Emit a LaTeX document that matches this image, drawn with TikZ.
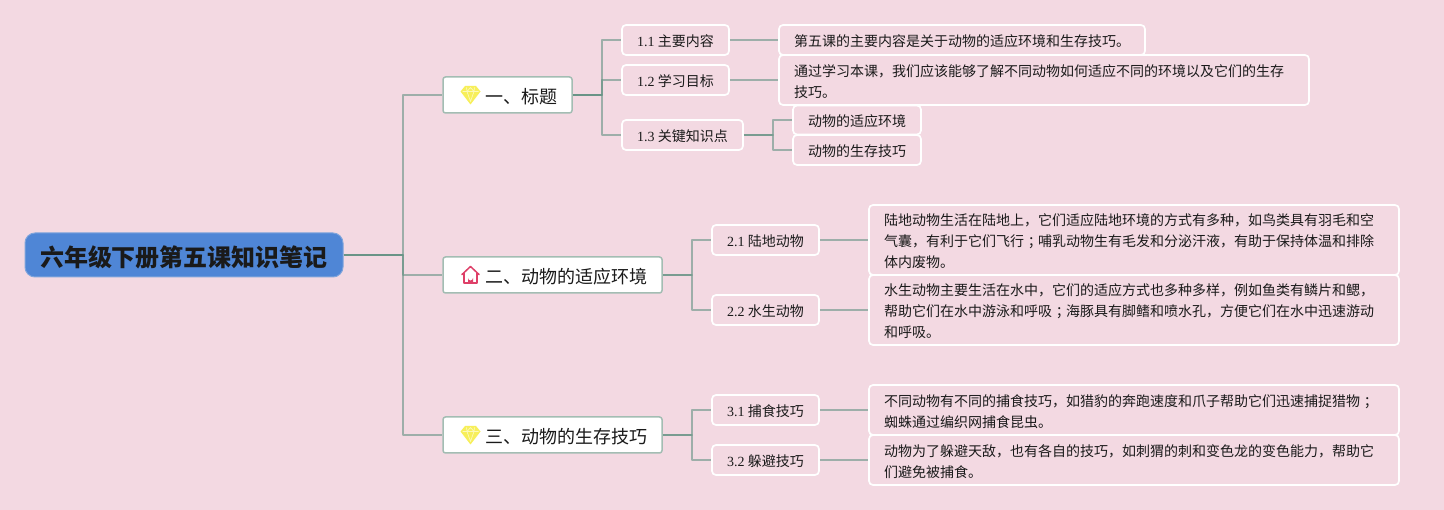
\documentclass[tikz,border=0pt]{standalone}
\usepackage{fontspec}
\setmainfont{Noto Sans CJK SC}
\newfontfamily\numfont{Liberation Serif}
\definecolor{bgpink}{HTML}{F3D9E2}
\definecolor{rootblue}{HTML}{4F86D6}
\definecolor{rootedge}{HTML}{7FA5DC}
\definecolor{linkgreen}{HTML}{5F8F80}
\definecolor{edgegreen}{HTML}{A3BDB3}
\definecolor{gemyellow}{HTML}{F7EF5A}
\definecolor{gemfacet}{HTML}{FCF9B8}
\definecolor{houseRed}{HTML}{DE3F68}
\definecolor{inktext}{HTML}{1A1A1A}
\newcommand{\gemicon}[2]{%
  \begin{scope}[shift={(#1,#2)}]
    \fill[gemyellow] (-5.5,-9) -- (5.5,-9) -- (10,-3.5) -- (0,9.5) -- (-10,-3.5) -- cycle;
    \draw[gemfacet,line width=.7pt,line join=round] (-8,-3.5) -- (8,-3.5) (-4,-7.5) -- (-3.5,-3.5) -- (0,6.5) -- (3.5,-3.5) -- (4,-7.5) (-3.5,-3.5) -- (0,-7.5) -- (3.5,-3.5);
  \end{scope}}
\newcommand{\houseicon}[2]{%
  \begin{scope}[shift={(#1,#2)}]
    \draw[houseRed,line width=1.5pt,line join=round,line cap=round] (-8.5,-0.5) -- (0,-8.5) -- (8.5,-0.5);
    \draw[houseRed,line width=1.5pt,line join=round] (-6.5,-2) -- (-6.5,8) -- (6.5,8) -- (6.5,-2);
    \fill[houseRed] (-2.5,8) -- (-2.5,3) arc[start angle=180,end angle=0,radius=2.5] -- (2.5,8) -- cycle;
  \end{scope}}
\tikzset{
  x=1pt,y=-1pt,
  rootbox/.style={draw=rootedge,fill=rootblue,line width=1pt,rounded corners=10pt,inner sep=0pt,minimum width=318pt,minimum height=44pt,text=inktext,font=\fontsize{24}{28}\selectfont\bfseries},
  topicbox/.style={draw=edgegreen,fill=white,line width=1.5pt,rounded corners=2.5pt,inner sep=0pt,minimum height=36pt,text=inktext,font=\fontsize{18}{22}\selectfont},
  labelbox/.style={draw=white,line width=1.7pt,rounded corners=4pt,inner sep=0pt,minimum height=30pt,text=inktext,font=\fontsize{14}{21}\selectfont},
  notebox/.style={labelbox,align=left},
  link/.style={draw=linkgreen,draw opacity=.58,line width=1.7pt,line join=round},
}
\newcommand{\nm}[1]{{\numfont #1}}
\newcommand{\semi}{\kern4pt；\kern-4pt}
\newcommand{\dnS}{\rule{0pt}{14.4pt}}
\newcommand{\dnT}{\rule{0pt}{18pt}}
\newcommand{\dnR}{\rule{0pt}{25pt}}
\begin{document}
\begin{tikzpicture}
\path[use as bounding box,fill=bgpink] (0,0) rectangle (1444,510);
\node[rootbox] (root) at (184,255) {\dnR 六年级下册第五课知识笔记};
\node[topicbox,minimum width=129pt] (t1) at (507.5,95) {\dnT\hspace*{27pt}一、标题};
\node[topicbox,minimum width=219pt] (t2) at (552.5,275) {\dnT\hspace*{27pt}二、动物的适应环境};
\node[topicbox,minimum width=219pt] (t3) at (552.5,435) {\dnT\hspace*{27pt}三、动物的生存技巧};
\gemicon{470.5}{95}
\houseicon{470.5}{275}
\gemicon{470.5}{435}
\node[labelbox,minimum width=107pt] (a1) at (675.5,40) {\dnS\nm{1.1} 主要内容};
\node[labelbox,minimum width=107pt] (a2) at (675.5,80) {\dnS\nm{1.2} 学习目标};
\node[labelbox,minimum width=121pt] (a3) at (682.5,135) {\dnS\nm{1.3} 关键知识点};
\node[labelbox,minimum width=128pt,minimum height=29pt] (a31) at (857,120) {\dnS 动物的适应环境};
\node[labelbox,minimum width=128pt,minimum height=30pt] (a32) at (857,150) {\dnS 动物的生存技巧};
\node[notebox,minimum width=366pt,text width=336pt] (n1) at (962,40) {\dnS 第五课的主要内容是关于动物的适应环境和生存技巧。};
\node[notebox,minimum width=530pt,text width=500pt,minimum height=50pt] (n2) at (1044,80) {\dnS 通过学习本课，我们应该能够了解不同动物如何适应不同的环境以及它们的生存\\技巧。};
\node[labelbox,minimum width=107pt] (b1) at (765.5,240) {\dnS\nm{2.1} 陆地动物};
\node[labelbox,minimum width=107pt] (b2) at (765.5,310) {\dnS\nm{2.2} 水生动物};
\node[notebox,minimum width=530pt,text width=500pt,minimum height=70pt] (n3) at (1134,240) {\dnS 陆地动物生活在陆地上，它们适应陆地环境的方式有多种，如鸟类具有羽毛和空\\气囊，有利于它们飞行\semi 哺乳动物生有毛发和分泌汗液，有助于保持体温和排除\\体内废物。};
\node[notebox,minimum width=530pt,text width=500pt,minimum height=70pt] (n4) at (1134,310) {\dnS 水生动物主要生活在水中，它们的适应方式也多种多样，例如鱼类有鳞片和鳃，\\帮助它们在水中游泳和呼吸\semi 海豚具有脚鳍和喷水孔，方便它们在水中迅速游动\\和呼吸。};
\node[labelbox,minimum width=107pt] (c1) at (765.5,410) {\dnS\nm{3.1} 捕食技巧};
\node[labelbox,minimum width=107pt] (c2) at (765.5,460) {\dnS\nm{3.2} 躲避技巧};
\node[notebox,minimum width=530pt,text width=500pt,minimum height=50pt] (n5) at (1134,410) {\dnS 不同动物有不同的捕食技巧，如猎豹的奔跑速度和爪子帮助它们迅速捕捉猎物\semi\\蜘蛛通过编织网捕食昆虫。};
\node[notebox,minimum width=530pt,text width=500pt,minimum height=50pt] (n6) at (1134,460) {\dnS 动物为了躲避天敌，也有各自的技巧，如刺猬的刺和变色龙的变色能力，帮助它\\们避免被捕食。};
\foreach \p/\c in {root/t1,root/t2,root/t3}
  \draw[link] (\p.east) -- ++(59.5,0) |- (\c.west);
\foreach \p/\c in {t1/a1,t1/a2,t1/a3}
  \draw[link] (\p.east) -- ++(29,0) |- (\c.west);
\foreach \p/\c in {t2/b1,t2/b2,t3/c1,t3/c2}
  \draw[link] (\p.east) -- ++(29,0) |- (\c.west);
\foreach \p/\c in {a3/a31,a3/a32}
  \draw[link] (\p.east) -- ++(29,0) |- (\c.west);
\foreach \p/\c in {a1/n1,a2/n2,b1/n3,b2/n4,c1/n5,c2/n6}
  \draw[link] (\p.east) -- (\p.east -| \c.west);
\end{tikzpicture}
\end{document}
